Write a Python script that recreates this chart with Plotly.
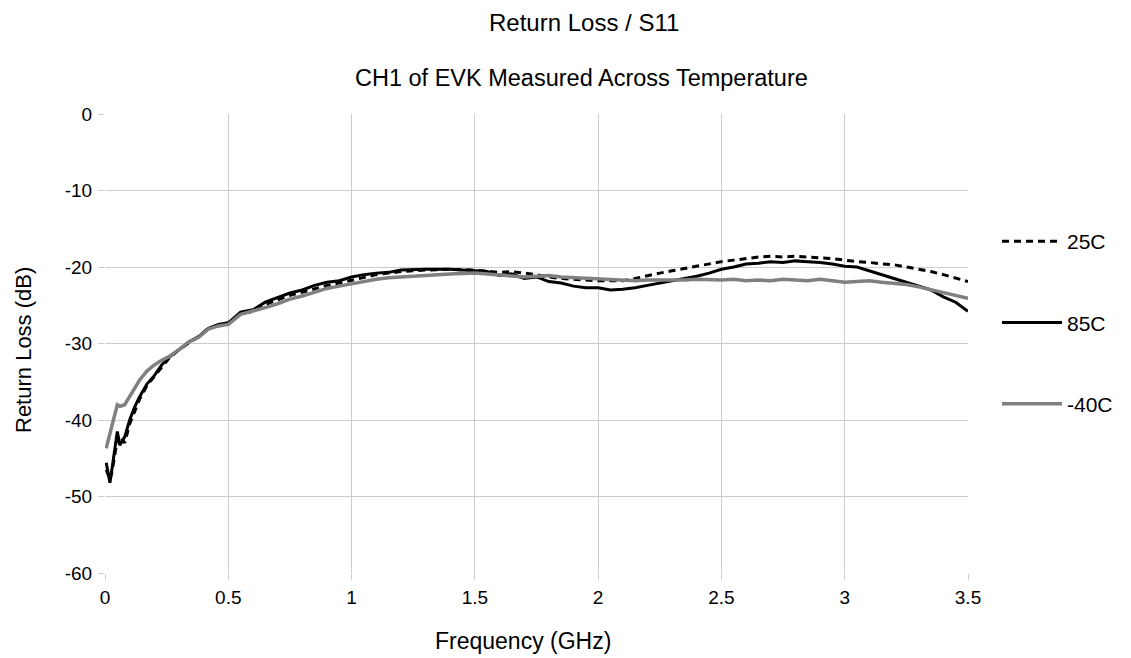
import plotly.graph_objects as go

freq = [0.005, 0.02, 0.03, 0.05, 0.06, 0.08, 0.10, 0.12, 0.14, 0.17, 0.20, 0.23, 0.26, 0.30,
        0.34, 0.38, 0.42, 0.46, 0.50, 0.55, 0.60, 0.65, 0.70, 0.75, 0.80, 0.85, 0.90, 0.95,
        1.0, 1.05, 1.1, 1.15, 1.2, 1.3, 1.4, 1.5, 1.55, 1.6, 1.65, 1.7, 1.75, 1.8, 1.85, 1.9,
        1.95, 2.0, 2.05, 2.1, 2.15, 2.2, 2.25, 2.3, 2.35, 2.4, 2.45, 2.5, 2.55, 2.6, 2.65, 2.7,
        2.75, 2.8, 2.85, 2.9, 2.95, 3.0, 3.05, 3.1, 3.15, 3.2, 3.25, 3.3, 3.35, 3.4, 3.45, 3.5]

rl_25c = [-46.5, -47.8, -46.5, -42.5, -42.0, -43.0, -40.5, -38.8, -37.3, -35.5, -34.3, -33.0, -31.9, -30.8,
          -29.9, -29.1, -28.0, -27.6, -27.3, -26.1, -25.8, -24.9, -24.3, -23.7, -23.3, -22.8, -22.4, -22.1,
          -21.7, -21.3, -21.0, -20.8, -20.6, -20.4, -20.3, -20.4, -20.5, -20.7, -20.6, -20.8, -21.0, -21.3, -21.5, -21.6,
          -21.7, -21.8, -21.8, -21.8, -21.5, -21.1, -20.8, -20.5, -20.2, -19.9, -19.6, -19.3, -19.1, -18.9, -18.7, -18.6,
          -18.7, -18.6, -18.7, -18.8, -18.9, -19.1, -19.3, -19.4, -19.6, -19.7, -20.0, -20.3, -20.6, -21.0, -21.4, -21.9]

rl_85c = [-45.6, -48.2, -46.0, -41.5, -43.3, -42.2, -40.0, -38.3, -37.0, -35.3, -34.2, -32.8, -31.8, -30.8,
          -29.8, -29.1, -28.0, -27.5, -27.3, -25.9, -25.6, -24.6, -24.0, -23.4, -23.0, -22.4, -22.0, -21.8,
          -21.3, -21.0, -20.8, -20.7, -20.4, -20.3, -20.3, -20.5, -20.6, -21.1, -20.9, -21.5, -21.3, -21.9, -22.1, -22.5,
          -22.7, -22.7, -23.0, -22.9, -22.7, -22.4, -22.1, -21.8, -21.5, -21.2, -20.8, -20.3, -20.0, -19.6, -19.5, -19.3,
          -19.4, -19.2, -19.3, -19.4, -19.6, -19.9, -20.0, -20.5, -21.0, -21.5, -21.9, -22.5, -23.0, -23.9, -24.6, -25.8]

rl_m40c = [-43.7, -42.0, -40.5, -38.0, -38.2, -38.0, -37.0, -35.8, -34.8, -33.6, -32.8, -32.2, -31.7, -30.8,
           -29.8, -29.2, -28.1, -27.7, -27.5, -26.2, -25.8, -25.3, -24.8, -24.2, -23.8, -23.3, -22.8, -22.5,
           -22.2, -21.8, -21.6, -21.4, -21.3, -21.0, -20.9, -20.8, -20.9, -21.0, -21.1, -21.3, -21.2, -21.1, -21.3, -21.4,
           -21.5, -21.6, -21.7, -21.7, -21.8, -21.7, -21.7, -21.8, -21.7, -21.6, -21.7, -21.7, -21.6, -21.8, -21.7, -21.8,
           -21.6, -21.7, -21.8, -21.6, -21.8, -22.0, -21.9, -21.8, -22.0, -22.1, -22.3, -22.6, -23.0, -23.4, -23.7, -24.1]

series_names = ["25C", "85C", "-40C"]
x_ticks = [0, 0.5, 1, 1.5, 2, 2.5, 3, 3.5]
x_tick_labels = ["0", "0.5", "1", "1.5", "2", "2.5", "3", "3.5"]
y_ticks = [0, -10, -20, -30, -40, -50, -60]
y_tick_labels = ["0", "-10", "-20", "-30", "-40", "-50", "-60"]

FONT = "Liberation Sans, Arial, sans-serif"

# The page body has an 8px margin, so the figure is 8px smaller and the
# plot area is placed at screen x 105..968, y 114..573.
W, H = 1123, 650
L, T = 97, 106
PW, PH = 863, 459


def px(sx):
    return (sx - 105) / PW


def py(sy):
    return (573 - sy) / PH


fig = go.Figure()
fig.add_trace(go.Scatter(x=freq, y=rl_25c, mode="lines", name=series_names[0], legendgroup="a",
                         line=dict(color="#000000", width=3, dash="7px,5px")))
fig.add_trace(go.Scatter(x=freq, y=rl_85c, mode="lines", name=series_names[1], legendgroup="b",
                         line=dict(color="#000000", width=3)))
fig.add_trace(go.Scatter(x=freq, y=rl_m40c, mode="lines", name=series_names[2], legendgroup="c",
                         line=dict(color="#808080", width=3.5)))

fig.update_layout(
    width=W, height=H,
    margin=dict(l=L, r=W - L - PW, t=T, b=H - T - PH),
    paper_bgcolor="white", plot_bgcolor="white",
    font=dict(family=FONT, size=19, color="#000000"),
    showlegend=True,
    legend=dict(x=px(997), y=py(221), xanchor="left", yanchor="top",
                font=dict(size=21, family=FONT), tracegroupgap=51,
                itemwidth=60, borderwidth=0, bgcolor="rgba(0,0,0,0)"),
    xaxis=dict(range=[0, 3.5], tickvals=x_ticks, ticktext=x_tick_labels,
               showgrid=True, gridcolor="#cccccc", gridwidth=1, zeroline=False,
               showline=False, ticks="outside", ticklen=6, tickcolor="#cccccc",
               ticklabelstandoff=1, tickfont=dict(size=19)),
    yaxis=dict(range=[-60, 0], tickvals=y_ticks, ticktext=y_tick_labels,
               showgrid=True, gridcolor="#cccccc", gridwidth=1, zeroline=False,
               showline=False, ticks="outside", ticklen=6, tickcolor="#cccccc",
               ticklabelstandoff=2, tickfont=dict(size=19)),
    annotations=[
        dict(text="Return Loss / S11", x=px(584), y=py(23), xref="paper", yref="paper",
             showarrow=False, font=dict(size=24), xanchor="center", yanchor="middle"),
        dict(text="CH1 of EVK Measured Across Temperature", x=px(581), y=py(78),
             xref="paper", yref="paper", showarrow=False, font=dict(size=23.5),
             xanchor="center", yanchor="middle"),
        dict(text="Return Loss (dB)", x=px(23), y=py(350), xref="paper", yref="paper",
             showarrow=False, font=dict(size=22), textangle=-90, xanchor="center", yanchor="middle"),
        dict(text="Frequency (GHz)", x=px(523), y=py(641), xref="paper", yref="paper",
             showarrow=False, font=dict(size=23), xanchor="center", yanchor="middle"),
    ],
)

fig.write_html("out.html")
